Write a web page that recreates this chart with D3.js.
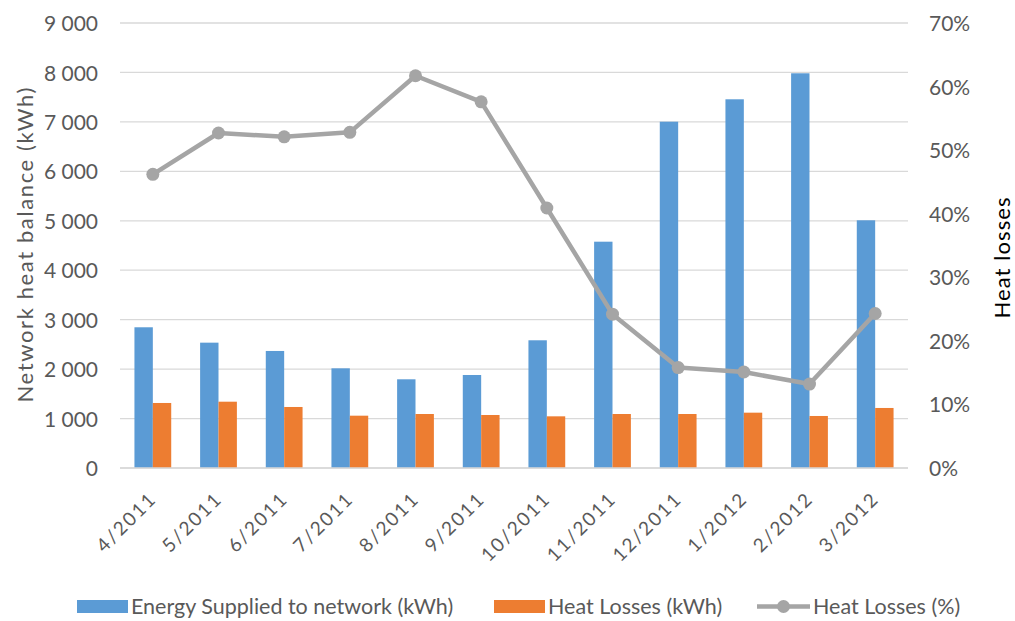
<!DOCTYPE html>
<html>
<head>
<meta charset="utf-8">
<script src="https://cdn.jsdelivr.net/npm/d3@7"></script>
<style>
  body { margin: 0; background: #fff; }
  svg text { font-family: Lato, "Open Sans", sans-serif; }
</style>
</head>
<body>
<svg width="1015" height="621"></svg>
<script>
// data
var months = ["4/2011", "5/2011", "6/2011", "7/2011", "8/2011", "9/2011",
              "10/2011", "11/2011", "12/2011", "1/2012", "2/2012", "3/2012"];
var energySupplied = [2846, 2535, 2367, 2016, 1794, 1881, 2583, 4577, 7004, 7457, 7983, 5010];
var heatLossKwh = [1315, 1341, 1234, 1058, 1092, 1072, 1045, 1092, 1092, 1119, 1052, 1214];
var heatLossPct = [0.462, 0.527, 0.521, 0.528, 0.617, 0.576, 0.409, 0.242, 0.158, 0.151, 0.132, 0.243];
var leftTicks = [0, 1000, 2000, 3000, 4000, 5000, 6000, 7000, 8000, 9000];
var rightTicks = [0, 0.1, 0.2, 0.3, 0.4, 0.5, 0.6, 0.7];

var svg = d3.select("svg");
var plotLeft = 120, plotRight = 908, plotTop = 23, plotBottom = 468;

var x = d3.scaleBand().domain(months).range([plotLeft, plotRight]);
var y = d3.scaleLinear().domain([0, 9000]).range([plotBottom, plotTop]);
var y2 = d3.scaleLinear().domain([0, 0.7]).range([plotBottom, plotTop]);

var fmtK = function(d) { return d3.format(",")(d).replace(",", " "); };

// gridlines
svg.append("g")
   .selectAll("line")
   .data(leftTicks)
   .enter().append("line")
   .attr("x1", plotLeft).attr("x2", plotRight)
   .attr("y1", function(d) { return y(d); })
   .attr("y2", function(d) { return y(d); })
   .attr("stroke", "#d9d9d9")
   .attr("stroke-width", 1.3);

// left axis
var yAxis = svg.append("g")
   .attr("transform", "translate(" + (plotLeft - 22) + ",0)")
   .call(d3.axisLeft(y).tickValues(leftTicks).tickFormat(fmtK).tickSize(0).tickPadding(0));
yAxis.select(".domain").remove();
yAxis.selectAll("text").attr("fill", "#595959").style("font-size", "21px").attr("dy", "0.36em");

// right axis
var y2Axis = svg.append("g")
   .attr("transform", "translate(" + (plotRight + 21) + ",0)")
   .call(d3.axisRight(y2).tickValues(rightTicks).tickFormat(d3.format(".0%")).tickSize(0).tickPadding(0));
y2Axis.select(".domain").remove();
y2Axis.selectAll("text").attr("fill", "#595959").style("font-size", "21px").attr("dy", "0.36em");

// x axis labels
svg.append("g")
   .selectAll("text")
   .data(months)
   .enter().append("text")
   .attr("transform", function(d) {
       return "translate(" + (x(d) + x.bandwidth() / 2 + 5) + "," + 500 + ") rotate(-45)";
   })
   .attr("text-anchor", "end")
   .attr("fill", "#595959")
   .style("font-size", "19px")
   .style("letter-spacing", "2px")
   .text(function(d) { return d; });

// axis titles
svg.append("text")
   .attr("transform", "translate(33," + 245 + ") rotate(-90)")
   .attr("text-anchor", "middle")
   .attr("fill", "#595959")
   .style("font-size", "22px")
   .attr("textLength", 315)
   .attr("lengthAdjust", "spacing")
   .text("Network heat balance  (kWh)");

svg.append("text")
   .attr("transform", "translate(1010," + 258 + ") rotate(-90)")
   .attr("text-anchor", "middle")
   .attr("fill", "#000")
   .style("font-size", "22px")
   .attr("textLength", 121)
   .attr("lengthAdjust", "spacing")
   .text("Heat losses");

// bars
var bw = x.bandwidth() * 0.28;
svg.append("g")
   .selectAll("rect")
   .data(energySupplied)
   .enter().append("rect")
   .attr("x", function(d, i) { return x(months[i]) + x.bandwidth() / 2 - bw; })
   .attr("y", function(d) { return y(d); })
   .attr("width", bw)
   .attr("height", function(d) { return plotBottom - y(d); })
   .attr("fill", "#5b9bd5");

svg.append("g")
   .selectAll("rect")
   .data(heatLossKwh)
   .enter().append("rect")
   .attr("x", function(d, i) { return x(months[i]) + x.bandwidth() / 2; })
   .attr("y", function(d) { return y(d); })
   .attr("width", bw)
   .attr("height", function(d) { return plotBottom - y(d); })
   .attr("fill", "#ed7d31");

// bottom axis line over bars
svg.append("line")
   .attr("x1", plotLeft).attr("x2", plotRight)
   .attr("y1", plotBottom).attr("y2", plotBottom)
   .attr("stroke", "#d9d9d9")
   .attr("stroke-width", 1.3);

// line series
var line = d3.line()
   .x(function(d, i) { return x(months[i]) + x.bandwidth() / 2; })
   .y(function(d) { return y2(d); });

svg.append("path")
   .datum(heatLossPct)
   .attr("d", line)
   .attr("fill", "none")
   .attr("stroke", "#a5a5a5")
   .attr("stroke-width", 4.5)
   .attr("stroke-linejoin", "round");

svg.append("g")
   .selectAll("circle")
   .data(heatLossPct)
   .enter().append("circle")
   .attr("cx", function(d, i) { return x(months[i]) + x.bandwidth() / 2; })
   .attr("cy", function(d) { return y2(d); })
   .attr("r", 6.5)
   .attr("fill", "#a5a5a5");

// legend
var lg = svg.append("g").style("font-size", "21.5px");
lg.append("rect").attr("x", 77).attr("y", 600).attr("width", 51).attr("height", 13).attr("fill", "#5b9bd5");
lg.append("text").attr("x", 131).attr("y", 614).attr("fill", "#595959").text("Energy Supplied to network (kWh)");
lg.append("rect").attr("x", 494).attr("y", 600).attr("width", 51).attr("height", 13).attr("fill", "#ed7d31");
lg.append("text").attr("x", 548).attr("y", 614).attr("fill", "#595959").text("Heat Losses (kWh)");
lg.append("line").attr("x1", 757).attr("x2", 810).attr("y1", 606.5).attr("y2", 606.5)
  .attr("stroke", "#a5a5a5").attr("stroke-width", 4.5);
lg.append("circle").attr("cx", 783.5).attr("cy", 606.5).attr("r", 6.5).attr("fill", "#a5a5a5");
lg.append("text").attr("x", 813).attr("y", 614).attr("fill", "#595959").text("Heat Losses (%)");
</script>
</body>
</html>
